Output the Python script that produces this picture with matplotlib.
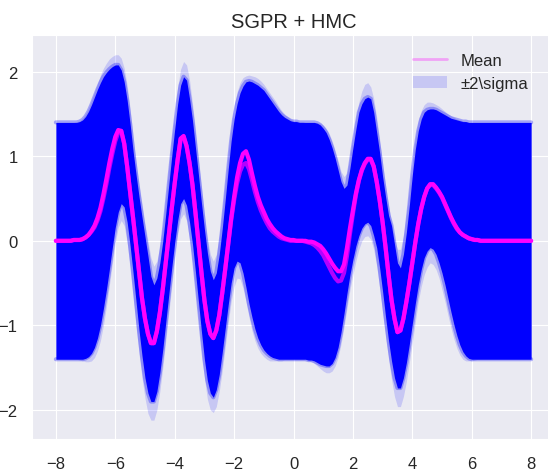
import numpy as np
import matplotlib
matplotlib.use('Agg')
import matplotlib.pyplot as plt
import seaborn as sns
from matplotlib.lines import Line2D
from matplotlib.patches import Patch

sns.set_style('darkgrid')
plt.rcParams['font.family'] = ['Liberation Sans', 'DejaVu Sans']

# prediction grid, -8 .. 8 step 0.1
x = np.linspace(-8, 8, 161)

# posterior mean of the main sample
mean = [0.00, 0.00, 0.00, 0.00, 0.00, 0.00, 0.01, 0.01, 0.01, 0.02,
        0.04, 0.07, 0.12, 0.18, 0.27, 0.39, 0.55, 0.73, 0.92, 1.09,
        1.23, 1.31, 1.30, 1.15, 0.88, 0.58, 0.27, -0.05, -0.38, -0.68,
        -0.92, -1.10, -1.21, -1.21, -1.07, -0.85, -0.57, -0.26, 0.06, 0.38,
        0.68, 0.96, 1.21, 1.24, 1.12, 0.92, 0.66, 0.33, -0.02, -0.37,
        -0.70, -0.95, -1.10, -1.15, -1.06, -0.88, -0.62, -0.34, -0.04, 0.26,
        0.52, 0.75, 0.92, 1.03, 1.06, 0.96, 0.80, 0.65, 0.52, 0.42,
        0.34, 0.26, 0.20, 0.15, 0.11, 0.08, 0.05, 0.03, 0.02, 0.01,
        0.01, 0.00, 0.00, 0.00, 0.00, -0.01, -0.01, -0.02, -0.04, -0.06,
        -0.10, -0.15, -0.21, -0.27, -0.32, -0.36, -0.36, -0.28, -0.08, 0.15,
        0.36, 0.56, 0.72, 0.84, 0.92, 0.97, 0.97, 0.88, 0.70, 0.48,
        0.22, -0.08, -0.40, -0.70, -0.92, -1.08, -1.06, -0.92, -0.72, -0.50,
        -0.26, -0.02, 0.20, 0.38, 0.52, 0.62, 0.67, 0.67, 0.63, 0.58,
        0.52, 0.44, 0.36, 0.28, 0.21, 0.15, 0.10, 0.07, 0.05, 0.03,
        0.02, 0.01, 0.01, 0.00, 0.00, 0.00, 0.00, 0.00, 0.00, 0.00,
        0.00, 0.00, 0.00, 0.00, 0.00, 0.00, 0.00, 0.00, 0.00, 0.00,
        0.00]

# a second HMC sample whose mean sits lower near the gap
mean_b = [0.00, 0.00, 0.00, 0.00, 0.00, 0.00, 0.01, 0.01, 0.01, 0.02,
          0.04, 0.07, 0.11, 0.16, 0.24, 0.35, 0.50, 0.67, 0.86, 1.03,
          1.18, 1.28, 1.30, 1.15, 0.88, 0.58, 0.27, -0.05, -0.38, -0.68,
          -0.92, -1.10, -1.21, -1.21, -1.07, -0.85, -0.57, -0.26, 0.06, 0.38,
          0.68, 0.96, 1.20, 1.23, 1.12, 0.92, 0.66, 0.33, -0.02, -0.37,
          -0.70, -0.95, -1.10, -1.15, -1.06, -0.88, -0.62, -0.34, -0.05, 0.24,
          0.48, 0.68, 0.82, 0.90, 0.92, 0.85, 0.72, 0.58, 0.46, 0.36,
          0.28, 0.21, 0.15, 0.11, 0.08, 0.05, 0.03, 0.02, 0.01, 0.00,
          0.00, 0.00, 0.00, 0.00, -0.01, -0.02, -0.03, -0.05, -0.08, -0.12,
          -0.17, -0.24, -0.31, -0.38, -0.44, -0.48, -0.47, -0.38, -0.18, 0.08,
          0.32, 0.54, 0.71, 0.83, 0.91, 0.96, 0.96, 0.88, 0.70, 0.48,
          0.22, -0.08, -0.40, -0.70, -0.92, -1.08, -1.06, -0.92, -0.72, -0.50,
          -0.26, -0.02, 0.20, 0.38, 0.52, 0.62, 0.66, 0.66, 0.62, 0.57,
          0.51, 0.43, 0.35, 0.27, 0.20, 0.14, 0.10, 0.07, 0.05, 0.03,
          0.02, 0.01, 0.01, 0.00, 0.00, 0.00, 0.00, 0.00, 0.00, 0.00,
          0.00, 0.00, 0.00, 0.00, 0.00, 0.00, 0.00, 0.00, 0.00, 0.00,
          0.00]

# +-2 sigma: edge where nearly all samples overlap (dense) ...
upper = [1.40, 1.40, 1.40, 1.40, 1.40, 1.40, 1.40, 1.40, 1.41, 1.43,
         1.47, 1.53, 1.61, 1.70, 1.79, 1.87, 1.94, 1.99, 2.03, 2.06,
         2.08, 2.08, 2.02, 1.88, 1.66, 1.38, 1.06, 0.78, 0.52, 0.28,
         0.05, -0.18, -0.42, -0.52, -0.44, -0.26, 0.00, 0.32, 0.66, 1.00,
         1.32, 1.62, 1.84, 1.94, 1.90, 1.68, 1.42, 1.10, 0.78, 0.45,
         0.14, -0.14, -0.36, -0.46, -0.38, -0.16, 0.14, 0.48, 0.84, 1.18,
         1.44, 1.62, 1.75, 1.83, 1.88, 1.89, 1.88, 1.86, 1.84, 1.81,
         1.78, 1.73, 1.68, 1.63, 1.58, 1.53, 1.49, 1.46, 1.44, 1.42,
         1.41, 1.41, 1.40, 1.40, 1.40, 1.40, 1.40, 1.40, 1.39, 1.37,
         1.33, 1.28, 1.20, 1.10, 0.98, 0.84, 0.70, 0.62, 0.66, 0.86,
         1.10, 1.32, 1.52, 1.62, 1.68, 1.70, 1.68, 1.52, 1.28, 1.04,
         0.76, 0.52, 0.30, 0.18, -0.04, -0.26, -0.32, -0.16, 0.10, 0.42,
         0.78, 1.08, 1.30, 1.44, 1.52, 1.55, 1.56, 1.56, 1.55, 1.53,
         1.51, 1.49, 1.47, 1.45, 1.44, 1.43, 1.42, 1.41, 1.41, 1.40,
         1.40, 1.40, 1.40, 1.40, 1.40, 1.40, 1.40, 1.40, 1.40, 1.40,
         1.40, 1.40, 1.40, 1.40, 1.40, 1.40, 1.40, 1.40, 1.40, 1.40,
         1.40]
lower = [-1.40, -1.40, -1.40, -1.40, -1.40, -1.40, -1.40, -1.40, -1.40, -1.40,
         -1.39, -1.37, -1.33, -1.26, -1.15, -1.00, -0.80, -0.58, -0.34, -0.08,
         0.16, 0.34, 0.44, 0.40, 0.22, -0.06, -0.38, -0.72, -1.06, -1.36,
         -1.62, -1.80, -1.90, -1.90, -1.78, -1.56, -1.28, -0.96, -0.64, -0.32,
         -0.02, 0.24, 0.44, 0.50, 0.42, 0.22, -0.04, -0.37, -0.72, -1.07,
         -1.40, -1.65, -1.80, -1.85, -1.76, -1.58, -1.32, -1.04, -0.76, -0.50,
         -0.32, -0.24, -0.26, -0.38, -0.55, -0.74, -0.90, -1.04, -1.15, -1.23,
         -1.29, -1.33, -1.36, -1.38, -1.39, -1.40, -1.40, -1.40, -1.40, -1.40,
         -1.40, -1.40, -1.40, -1.40, -1.40, -1.41, -1.41, -1.42, -1.44, -1.46,
         -1.47, -1.48, -1.48, -1.45, -1.38, -1.26, -1.08, -0.86, -0.62, -0.40,
         -0.22, -0.06, 0.06, 0.15, 0.20, 0.22, 0.18, 0.06, -0.08, -0.32,
         -0.60, -0.90, -1.18, -1.42, -1.62, -1.74, -1.74, -1.62, -1.44, -1.22,
         -0.98, -0.74, -0.52, -0.34, -0.20, -0.12, -0.08, -0.10, -0.16, -0.26,
         -0.38, -0.52, -0.68, -0.84, -0.99, -1.12, -1.23, -1.31, -1.36, -1.39,
         -1.40, -1.40, -1.40, -1.40, -1.40, -1.40, -1.40, -1.40, -1.40, -1.40,
         -1.40, -1.40, -1.40, -1.40, -1.40, -1.40, -1.40, -1.40, -1.40, -1.40,
         -1.40]

# ... and the outer fringe reached by only a few samples
upper_out = [1.40, 1.40, 1.40, 1.40, 1.40, 1.40, 1.40, 1.41, 1.42, 1.45,
             1.50, 1.57, 1.66, 1.76, 1.86, 1.96, 2.04, 2.10, 2.15, 2.18,
             2.20, 2.20, 2.16, 2.04, 1.84, 1.56, 1.24, 0.94, 0.68, 0.44,
             0.20, 0.00, -0.20, -0.30, -0.24, -0.06, 0.20, 0.52, 0.88, 1.22,
             1.52, 1.82, 2.03, 2.12, 2.08, 1.90, 1.62, 1.32, 0.98, 0.65,
             0.32, 0.04, -0.16, -0.24, -0.16, 0.06, 0.36, 0.70, 1.04, 1.36,
             1.60, 1.76, 1.87, 1.93, 1.95, 1.96, 1.95, 1.94, 1.92, 1.89,
             1.85, 1.80, 1.75, 1.70, 1.65, 1.59, 1.54, 1.50, 1.47, 1.44,
             1.42, 1.42, 1.41, 1.41, 1.40, 1.40, 1.40, 1.40, 1.40, 1.39,
             1.37, 1.33, 1.27, 1.18, 1.07, 0.95, 0.82, 0.76, 0.80, 1.00,
             1.24, 1.46, 1.64, 1.77, 1.85, 1.87, 1.82, 1.68, 1.46, 1.20,
             0.92, 0.66, 0.42, 0.22, 0.02, -0.10, -0.10, 0.06, 0.32, 0.62,
             0.94, 1.22, 1.42, 1.54, 1.61, 1.64, 1.64, 1.63, 1.61, 1.59,
             1.56, 1.53, 1.50, 1.48, 1.46, 1.44, 1.43, 1.42, 1.41, 1.40,
             1.40, 1.40, 1.40, 1.40, 1.40, 1.40, 1.40, 1.40, 1.40, 1.40,
             1.40, 1.40, 1.40, 1.40, 1.40, 1.40, 1.40, 1.40, 1.40, 1.40,
             1.40]
lower_out = [-1.40, -1.40, -1.40, -1.40, -1.40, -1.40, -1.40, -1.40, -1.41, -1.42,
             -1.43, -1.43, -1.42, -1.38, -1.30, -1.18, -1.00, -0.78, -0.53, -0.27,
             -0.02, 0.16, 0.24, 0.18, -0.02, -0.30, -0.64, -1.00, -1.34, -1.62,
             -1.86, -2.04, -2.12, -2.12, -2.00, -1.78, -1.50, -1.18, -0.86, -0.54,
             -0.22, 0.08, 0.26, 0.32, 0.24, 0.02, -0.26, -0.60, -0.94, -1.30,
             -1.62, -1.87, -2.00, -2.03, -1.96, -1.78, -1.54, -1.26, -0.98, -0.72,
             -0.54, -0.44, -0.45, -0.56, -0.72, -0.90, -1.06, -1.18, -1.27, -1.33,
             -1.37, -1.40, -1.42, -1.42, -1.42, -1.42, -1.42, -1.41, -1.41, -1.41,
             -1.41, -1.41, -1.41, -1.41, -1.41, -1.42, -1.43, -1.45, -1.48, -1.51,
             -1.54, -1.56, -1.56, -1.54, -1.48, -1.38, -1.22, -1.02, -0.80, -0.58,
             -0.40, -0.24, -0.10, 0.00, 0.05, 0.06, 0.02, -0.10, -0.30, -0.56,
             -0.84, -1.12, -1.40, -1.64, -1.84, -1.96, -1.96, -1.84, -1.66, -1.44,
             -1.20, -0.96, -0.72, -0.54, -0.40, -0.31, -0.26, -0.28, -0.34, -0.44,
             -0.58, -0.72, -0.88, -1.03, -1.16, -1.27, -1.35, -1.40, -1.42, -1.42,
             -1.42, -1.41, -1.40, -1.40, -1.40, -1.40, -1.40, -1.40, -1.40, -1.40,
             -1.40, -1.40, -1.40, -1.40, -1.40, -1.40, -1.40, -1.40, -1.40, -1.40,
             -1.40]

fig = plt.figure(figsize=(5.48, 4.77), dpi=100)
# axes run past the right edge of the picture, like the cropped original
ax = fig.add_axes([0.0586, 0.0776, 0.954, 0.847])

ax.fill_between(x, lower_out, upper_out, color='blue', alpha=0.15, lw=0)
ax.fill_between(x, lower, upper, color='blue', lw=0)
# soften the edge of the dense band
ax.plot(x, upper, color='blue', alpha=0.3, lw=3)
ax.plot(x, lower, color='blue', alpha=0.3, lw=3)

ax.plot(x, mean_b, color='magenta', lw=3, alpha=0.7)
ax.plot(x, mean, color='magenta', lw=3)

ax.set_xlim(-8.8, 8.8)
ax.set_ylim(-2.343, 2.434)
ax.set_xticks(np.arange(-8, 9, 2))
ax.set_yticks([-2, -1, 0, 1, 2])
ax.tick_params(axis='x', labelsize=12, pad=9)
ax.tick_params(axis='y', labelsize=12, pad=7)
ax.set_title('SGPR + HMC', fontsize=14.5)

handles = [Line2D([], [], color='magenta', alpha=0.3, lw=2),
           Patch(facecolor='blue', alpha=0.15, lw=0)]
ax.legend(handles, ['Mean', '±2\\sigma'], loc='upper right',
          bbox_to_anchor=(0.977, 0.993), fontsize=12, frameon=False)

fig.savefig('out.png', dpi=100)
